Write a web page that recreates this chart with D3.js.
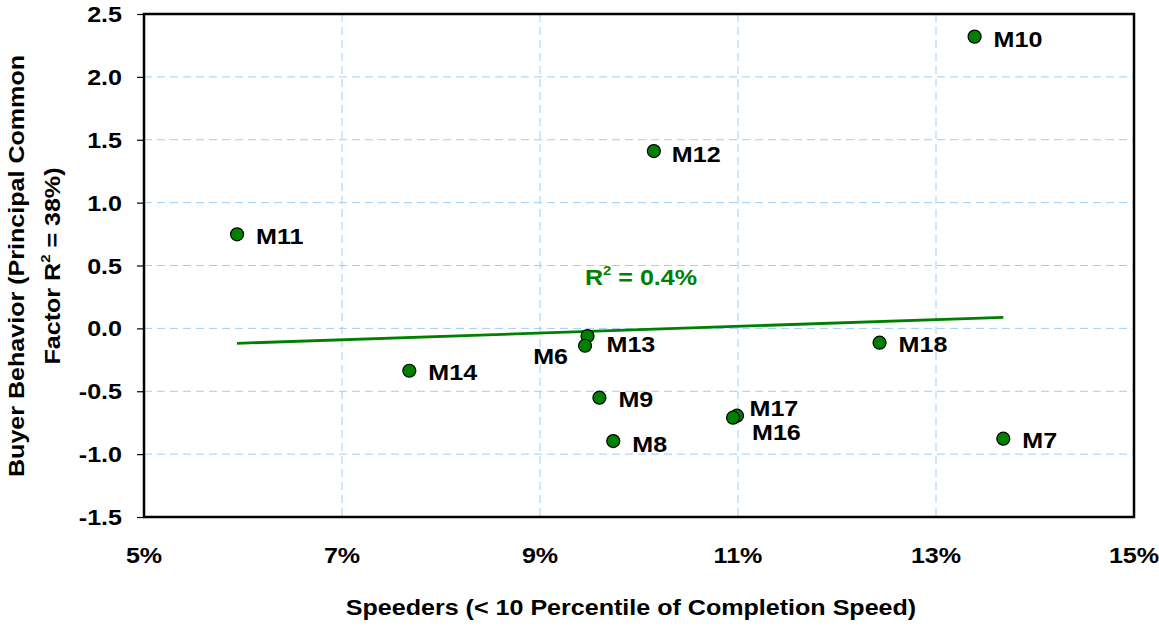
<!DOCTYPE html>
<html>
<head>
<meta charset="utf-8">
<script src="https://cdn.jsdelivr.net/npm/d3@7"></script>
<style>
  html, body { margin: 0; padding: 0; background: #fff; }
  svg text { font-family: "Liberation Sans", Arial, sans-serif; font-weight: bold; }
</style>
</head>
<body>
<svg id="chart" width="1159" height="626"></svg>
<script>
// ---- data ----
const names   = ["M10", "M12", "M11", "M13", "M6", "M18", "M14", "M9", "M17", "M16", "M8", "M7"];
const speeders = [13.39, 10.15, 5.94, 9.48, 9.455, 12.43, 7.68, 9.60, 10.99, 10.95, 9.74, 13.68]; // %
const buyer    = [2.32, 1.41, 0.748, -0.061, -0.138, -0.114, -0.337, -0.551, -0.694, -0.710, -0.896, -0.877];
const xTicks = [5, 7, 9, 11, 13, 15];
const yTicks = [-1.5, -1.0, -0.5, 0.0, 0.5, 1.0, 1.5, 2.0, 2.5];
const trendY = [-0.119, 0.088]; // trend line values at min and max speeders
const r2Label = "0.4%";
const xTitle = "Speeders (< 10 Percentile of Completion Speed)";
const yTitle1 = "Buyer Behavior (Principal Common";
const yTitle2a = "Factor R";
const yTitle2b = " = 38%)";

// ---- layout ----
(function () {
const mL = 144, mR = 1134, mT = 14, mB = 517;
const SX = 1.14, FS = 22;
const green = "#008000";
const gridColor = "#9fcdf7";

// label offsets (dx from point, dy baseline, anchor)
const labelPos = {
  M10: [19, 10.5, "start"], M12: [18, 10.5, "start"], M11: [19, 10, "start"],
  M13: [19, 15.5, "start"], M6: [-17, 18.5, "end"], M18: [19, 9.5, "start"],
  M14: [19, 9.5, "start"], M9: [19, 9.5, "start"], M17: [12.5, 0, "start"],
  M16: [19, 22, "start"], M8: [19, 10.5, "start"], M7: [19, 9.5, "start"]
};

const svg = d3.select("#chart");
const x = d3.scaleLinear().domain([5, 15]).range([mL, mR]);
const y = d3.scaleLinear().domain([-1.5, 2.5]).range([mB, mT]);

function stretched(g, tx, ty, rot, anchor, fs) {
  return g.append("text")
    .attr("transform", `translate(${tx},${ty})` + (rot ? ` rotate(${rot})` : "") + ` scale(${SX},1)`)
    .attr("text-anchor", anchor)
    .attr("font-size", fs || FS);
}

// grid
const grid = svg.append("g");
grid.selectAll("line.gx").data(xTicks.slice(1, -1)).join("line")
  .attr("x1", d => x(d)).attr("x2", d => x(d)).attr("y1", mT).attr("y2", mB)
  .attr("stroke", gridColor).attr("stroke-width", 1).attr("stroke-dasharray", "8,5");
grid.selectAll("line.gy").data(yTicks.slice(1, -1)).join("line")
  .attr("y1", d => y(d)).attr("y2", d => y(d)).attr("x1", mL).attr("x2", mR)
  .attr("stroke", gridColor).attr("stroke-width", 1).attr("stroke-dasharray", "8,5");

// y axis ticks
const yAxis = d3.axisLeft(y).tickValues(yTicks).tickSize(7).tickFormat("");
svg.append("g").attr("transform", `translate(${mL},0)`).call(yAxis)
  .call(g => g.select(".domain").remove())
  .call(g => g.selectAll("line").attr("stroke", "#000").attr("stroke-width", 1.2));

// y tick labels
const fmt = v => v.toFixed(1);
yTicks.forEach(v => {
  stretched(svg, 122, y(v) + 8, 0, "end").text(fmt(v));
});
// x tick labels
xTicks.forEach(v => {
  stretched(svg, x(v), 563, 0, "middle").text(v + "%");
});

// frame
svg.append("rect").attr("x", mL).attr("y", mT).attr("width", mR - mL).attr("height", mB - mT)
  .attr("fill", "none").attr("stroke", "#000").attr("stroke-width", 2.5);

// trend line
const xExt = d3.extent(speeders);
svg.append("line")
  .attr("x1", x(xExt[0])).attr("y1", y(trendY[0]))
  .attr("x2", x(xExt[1])).attr("y2", y(trendY[1]))
  .attr("stroke", green).attr("stroke-width", 2.8);

// R2 label
const r2 = stretched(svg, 585, 285, 0, "start").attr("fill", green);
r2.append("tspan").text("R");
r2.append("tspan").attr("font-size", 13).attr("dy", -10).text("2");
r2.append("tspan").attr("dy", 10).text(" = " + r2Label);

// points
const pts = names.map((n, i) => ({ n, x: speeders[i], y: buyer[i] }));
svg.append("g").selectAll("circle").data(pts).join("circle")
  .attr("cx", d => x(d.x)).attr("cy", d => y(d.y)).attr("r", 6.5)
  .attr("fill", green).attr("stroke", "#000").attr("stroke-width", 1.2);

// labels
pts.forEach(d => {
  const p = labelPos[d.n];
  stretched(svg, x(d.x) + p[0], y(d.y) + p[1], 0, p[2]).text(d.n);
});

// axis titles
stretched(svg, 631, 615, 0, "middle").text(xTitle);
stretched(svg, 24, 266, -90, "middle").text(yTitle1);
const yt2 = stretched(svg, 60, 266, -90, "middle");
yt2.append("tspan").text(yTitle2a);
yt2.append("tspan").attr("font-size", 13).attr("dy", -10).text("2");
yt2.append("tspan").attr("dy", 10).text(yTitle2b);
})();
</script>
</body>
</html>
